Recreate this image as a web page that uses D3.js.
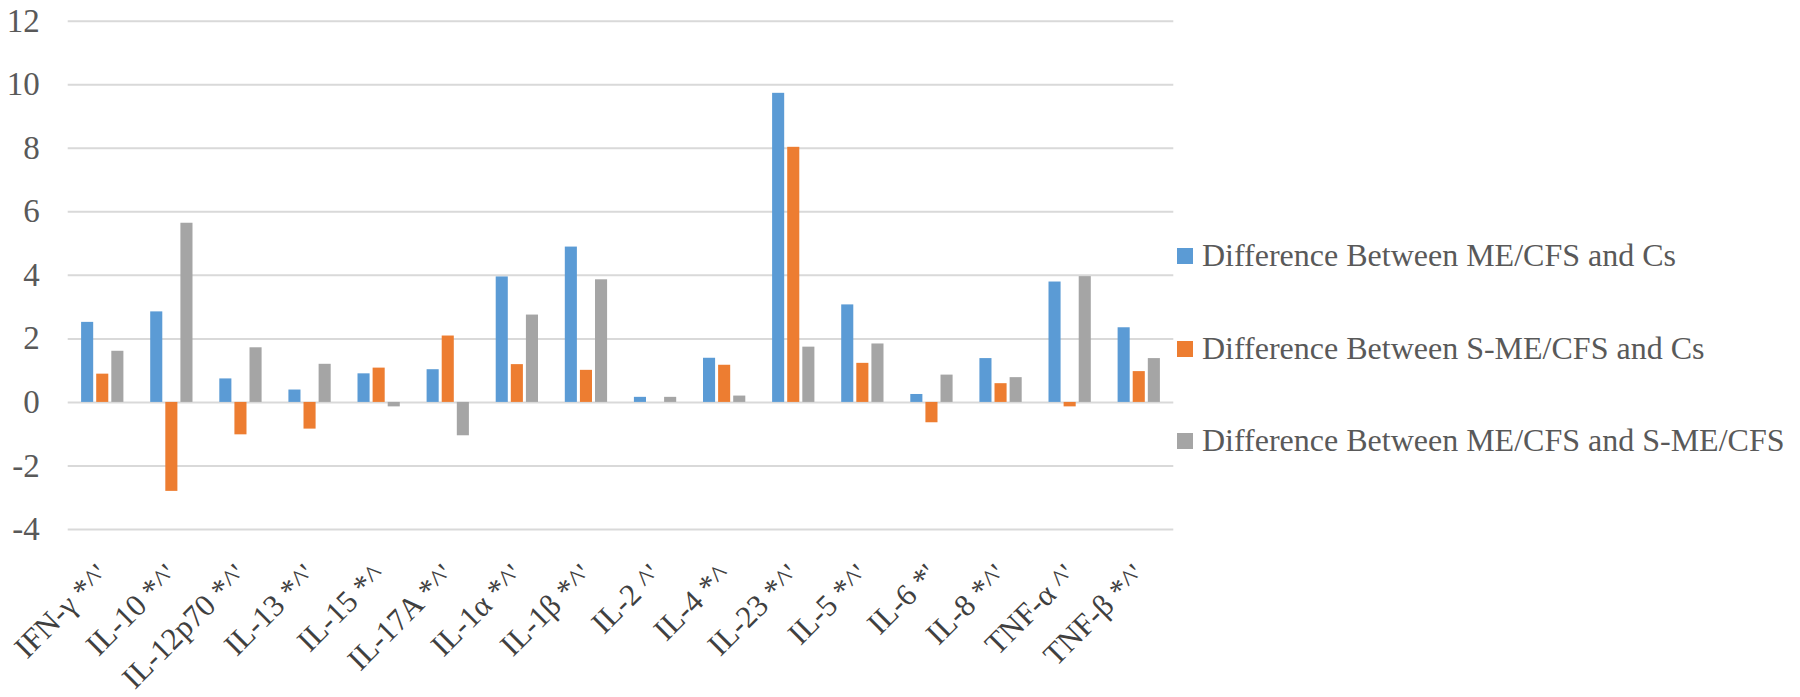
<!DOCTYPE html>
<html>
<head>
<meta charset="utf-8">
<script src="https://cdn.jsdelivr.net/npm/d3@7"></script>
<style>
  body { margin: 0; background: #fff; }
  svg { display: block; }
</style>
</head>
<body>
<svg id="chart" width="1800" height="697"></svg>
<script>
// Daten
const categories = ["IFN-γ *^'", "IL-10 *^'", "IL-12p70 *^'", "IL-13 *^'", "IL-15 *^", "IL-17A *^'",
  "IL-1α *^'", "IL-1β *^'", "IL-2 ^'", "IL-4 *^", "IL-23 *^'", "IL-5 *^'", "IL-6 *'", "IL-8 *^'",
  "TNF-α ^'", "TNF-β *^'"];
const seriesNames = ["Difference Between ME/CFS and Cs", "Difference Between S-ME/CFS and Cs",
  "Difference Between ME/CFS and S-ME/CFS"];
const meVsCs = [2.52, 2.85, 0.74, 0.39, 0.90, 1.03, 3.95, 4.89, 0.16, 1.39, 9.73, 3.07, 0.25, 1.38, 3.79, 2.35];
const smeVsCs = [0.89, -2.80, -1.02, -0.84, 1.08, 2.09, 1.19, 1.01, 0, 1.17, 8.03, 1.23, -0.64, 0.59, -0.14, 0.97];
const meVsSme = [1.61, 5.64, 1.72, 1.20, -0.14, -1.05, 2.75, 3.86, 0.16, 0.20, 1.74, 1.84, 0.86, 0.78, 3.96, 1.38];
const yTicks = [-4, -2, 0, 2, 4, 6, 8, 10, 12];
const colors = ["#5B9BD5", "#ED7D31", "#A5A5A5"];

const series = [meVsCs, smeVsCs, meVsSme];
const serif = "'Liberation Serif', 'Times New Roman', serif";

const svg = d3.select("#chart");
const plotLeft = 67.7, plotRight = 1173.3, plotTop = 20.7, plotBottom = 529;

// Skalen
const x0 = d3.scaleBand()
    .domain(categories)
    .range([plotLeft, plotRight])
    .paddingInner(0.388)
    .paddingOuter(0.194);

const x1 = d3.scaleBand()
    .domain([0, 1, 2])
    .range([0, x0.bandwidth()])
    .paddingInner(0.2);

const y = d3.scaleLinear()
    .domain([-4, 12])
    .range([plotBottom, plotTop]);

// Gitterlinien + Y-Achse
const yAxis = svg.append("g")
    .attr("transform", `translate(${plotLeft},0)`)
    .call(d3.axisLeft(y).tickValues(yTicks).tickFormat(d => String(d))
      .tickSize(-(plotRight - plotLeft)).tickPadding(28));
yAxis.attr("font-family", serif).attr("font-size", 33);
yAxis.select(".domain").remove();
yAxis.selectAll(".tick line").attr("stroke", "#D9D9D9").attr("stroke-width", 2);
yAxis.selectAll(".tick text").attr("fill", "#595959");

// Balken
const groups = svg.append("g").selectAll("g")
    .data(categories)
    .join("g")
    .attr("transform", d => `translate(${x0(d)},0)`);

groups.selectAll("rect")
    .data((d, i) => series.map((s, k) => ({ k: k, v: s[i] })))
    .join("rect")
    .attr("x", d => x1(d.k))
    .attr("width", x1.bandwidth())
    .attr("y", d => y(Math.max(0, d.v)))
    .attr("height", d => Math.abs(y(d.v) - y(0)))
    .attr("fill", d => colors[d.k]);

// X-Achse (gedrehte Beschriftungen)
const xAxis = svg.append("g")
    .attr("transform", `translate(0,${plotBottom + 40})`)
    .call(d3.axisBottom(x0).tickSize(0));
xAxis.attr("font-family", serif).attr("font-size", 31);
xAxis.select(".domain").remove();
xAxis.selectAll(".tick text")
    .attr("fill", "#404040")
    .attr("text-anchor", "end")
    .attr("dy", "0.35em")
    .attr("y", 0)
    .attr("x", 0)
    .attr("transform", "rotate(-45)");

// Legende
const legend = svg.append("g")
    .attr("transform", "translate(1177,0)")
    .attr("font-family", serif)
    .attr("font-size", 32);
const rowY = [256, 349, 441];
seriesNames.forEach((name, i) => {
  legend.append("rect")
      .attr("x", 0).attr("y", rowY[i] - 8)
      .attr("width", 16).attr("height", 16)
      .attr("fill", colors[i]);
  legend.append("text")
      .attr("x", 25).attr("y", rowY[i] + 10)
      .attr("fill", "#595959")
      .text(name);
});
</script>
</body>
</html>
